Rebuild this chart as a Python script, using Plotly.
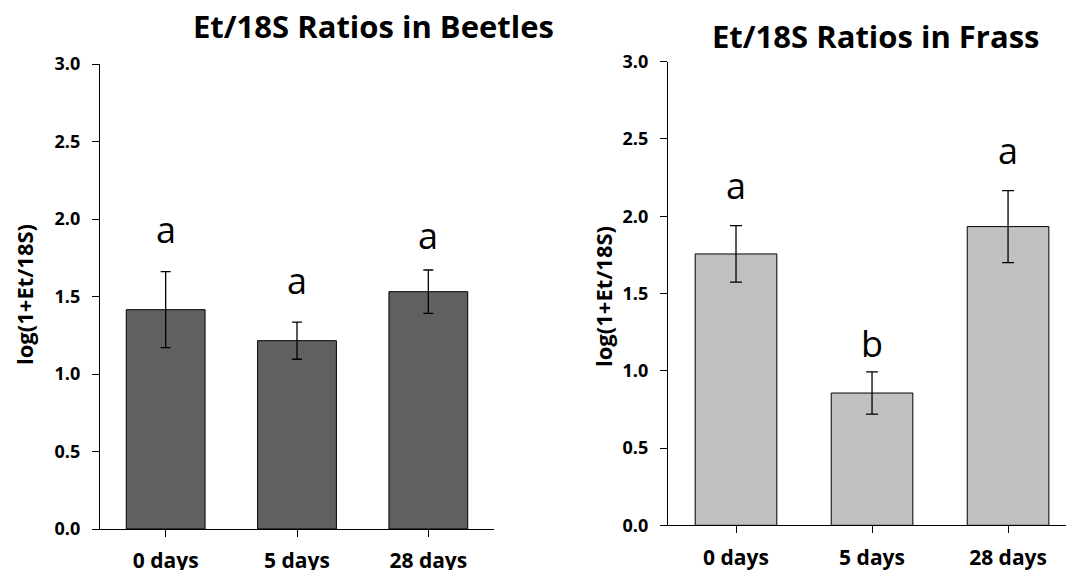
import plotly.graph_objects as go

categories = ["0 days", "5 days", "28 days"]

beetles_values = [1.415, 1.215, 1.531]
beetles_err = [0.245, 0.12, 0.14]
beetles_letters = ["a", "a", "a"]
beetles_letter_y = [1.845, 1.516, 1.806]

frass_values = [1.756, 0.856, 1.933]
frass_err = [0.183, 0.137, 0.233]
frass_letters = ["a", "b", "a"]
frass_letter_y = [2.110, 1.091, 2.338]

y_ticks = [0.0, 0.5, 1.0, 1.5, 2.0, 2.5, 3.0]
y_title = "log(1+Et/18S)"
title_left = "Et/18S Ratios in Beetles"
title_right = "Et/18S Ratios in Frass"

W, H = 1068, 570
FONT = "Open Sans"

fig = go.Figure()

fig.add_trace(go.Bar(
    x=categories, y=beetles_values, width=0.6,
    marker=dict(color="#606060", line=dict(color="black", width=1)),
    error_y=dict(type="data", array=beetles_err, color="black", thickness=1.3, width=5),
    xaxis="x", yaxis="y", showlegend=False,
))
fig.add_trace(go.Bar(
    x=categories, y=frass_values, width=0.6,
    marker=dict(color="#c0c0c0", line=dict(color="black", width=1)),
    error_y=dict(type="data", array=frass_err, color="black", thickness=1.3, width=6),
    xaxis="x2", yaxis="y2", showlegend=False,
))

def px_x(p):
    return p / W

def px_y(p):
    return (H - p) / H

axis_common = dict(
    showline=True, linecolor="black", linewidth=1.2, showgrid=False, zeroline=False,
    ticks="outside", ticklen=7, tickcolor="black", tickwidth=1.2, automargin=False,
    tickfont=dict(family=FONT, size=18, color="black", weight="bold"),
)
xfont = dict(family=FONT, size=21, color="black", weight="bold")

fig.update_layout(
    width=W, height=H,
    margin=dict(l=0, r=0, t=0, b=0),
    plot_bgcolor="white", paper_bgcolor="white",
    bargap=0.4,
    xaxis=dict(domain=[px_x(100), px_x(494)], range=[-0.5, 2.5], anchor="y",
               **{**axis_common, "tickfont": xfont}, ticklabelstandoff=6),
    yaxis=dict(domain=[px_y(529), px_y(64)], range=[0, 3], anchor="x",
               tickvals=y_ticks, tickformat=".1f", ticklabelstandoff=8, **axis_common),
    xaxis2=dict(domain=[px_x(668), px_x(1066)], range=[-0.5, 2.426], anchor="y2",
                **{**axis_common, "tickfont": xfont}, ticklabelstandoff=6),
    yaxis2=dict(domain=[px_y(525.3), px_y(61.7)], range=[0, 3], anchor="x2",
                tickvals=y_ticks, tickformat=".1f", ticklabelstandoff=8, **axis_common),
)

annotations = []
for cat, lab, ly in zip(categories, beetles_letters, beetles_letter_y):
    annotations.append(dict(x=cat, y=ly, xref="x", yref="y", text=lab, showarrow=False,
                            yanchor="bottom", yshift=-13,
                            font=dict(family=FONT, size=36, color="black")))
for cat, lab, ly in zip(categories, frass_letters, frass_letter_y):
    annotations.append(dict(x=cat, y=ly, xref="x2", yref="y2", text=lab, showarrow=False,
                            yanchor="bottom", yshift=-13,
                            font=dict(family=FONT, size=36, color="black")))

annotations.append(dict(x=px_x(373.5), y=px_y(26), xref="paper", yref="paper", text=title_left,
                        showarrow=False, xanchor="center", yanchor="middle",
                        font=dict(family=FONT, size=31, color="black", weight="bold")))
annotations.append(dict(x=px_x(875), y=px_y(36), xref="paper", yref="paper", text=title_right,
                        showarrow=False, xanchor="center", yanchor="middle",
                        font=dict(family=FONT, size=31, color="black", weight="bold")))
annotations.append(dict(x=px_x(24), y=px_y(295), xref="paper", yref="paper", text=y_title,
                        showarrow=False, textangle=-90, xanchor="center", yanchor="middle",
                        font=dict(family=FONT, size=22, color="black", weight="bold")))
annotations.append(dict(x=px_x(603), y=px_y(297), xref="paper", yref="paper", text=y_title,
                        showarrow=False, textangle=-90, xanchor="center", yanchor="middle",
                        font=dict(family=FONT, size=22, color="black", weight="bold")))

fig.update_layout(annotations=annotations)

fig.write_html(
    "out.html",
    config={"displayModeBar": False},
    post_script="document.body.style.margin='0';document.body.style.overflow='hidden';",
)
